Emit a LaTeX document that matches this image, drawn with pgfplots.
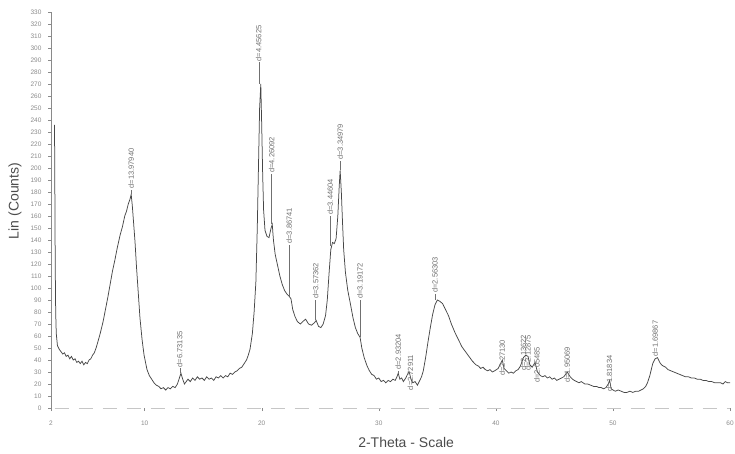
\documentclass[border=0pt]{standalone}
\usepackage{pgfplots}
\pgfplotsset{compat=1.18}
\usepackage{pgfplotstable}
\usepackage{fontspec}
\setmainfont{Liberation Sans}
\definecolor{curve}{HTML}{474747}
\definecolor{lbl}{HTML}{707070}
\definecolor{tck}{HTML}{8A8A8A}
\pgfplotstableread{
t c
2.30 236
2.33 180
2.36 120
2.40 80
2.45 62
2.55 52
2.70 49
2.85 47
3.00 45
3.15 46
3.30 43
3.45 44
3.60 41
3.75 43
3.90 40
4.05 41
4.20 38
4.35 39
4.50 37
4.65 39
4.80 36
4.95 38
5.10 37
5.25 40
5.40 41
5.55 44
5.70 46
5.85 50
6.00 55
6.20 62
6.45 72
6.65 82
6.85 92
7.05 103
7.25 114
7.45 123
7.65 133
7.90 144
8.10 151
8.30 160
8.45 164
8.60 170
8.75 174
8.85 178
8.95 168
9.05 155
9.18 138
9.30 118
9.44 98
9.60 75
9.78 57
9.95 44
10.20 32
10.40 27
10.60 24
10.80 21
11.00 19
11.20 18
11.40 16
11.60 17
11.80 15
12.00 17
12.20 16
12.40 18
12.60 17
12.80 20
13.00 26
13.10 29
13.25 24
13.40 20
13.55 22
13.70 24
13.90 22
14.10 25
14.30 23
14.50 26
14.70 24
14.90 25
15.10 23
15.30 26
15.50 24
15.70 25
15.90 23
16.10 26
16.30 25
16.50 27
16.70 25
16.90 27
17.10 26
17.30 29
17.50 28
17.70 30
17.90 31
18.10 33
18.30 34
18.50 37
18.70 40
18.85 44
19.00 49
19.20 62
19.35 80
19.50 105
19.62 150
19.72 200
19.82 250
19.92 270
20.00 235
20.08 195
20.16 165
20.28 148
20.45 143
20.62 142
20.80 150
20.90 153
21.00 140
21.15 128
21.35 119
21.55 110
21.75 103
21.95 98
22.15 95
22.35 93
22.50 91
22.65 82
22.85 76
23.05 72
23.30 70
23.50 72
23.75 74
24.00 70
24.25 69
24.50 71
24.65 73
24.85 68
25.05 67
25.25 70
25.45 77
25.60 90
25.75 112
25.90 132
26.05 138
26.20 137
26.35 141
26.50 160
26.62 185
26.70 198
26.80 180
26.90 155
27.00 132
27.15 113
27.35 98
27.55 88
27.80 75
28.00 67
28.20 62
28.40 59
28.55 50
28.75 42
29.00 35
29.20 31
29.40 28
29.60 27
29.80 24
30.00 25
30.20 22
30.40 23
30.60 21
30.80 23
31.00 22
31.20 24
31.40 23
31.55 26
31.66 29
31.80 24
31.95 25
32.10 22
32.30 25
32.50 29
32.60 30
32.75 24
32.90 21
33.10 22
33.30 19
33.50 23
33.65 26
33.80 31
34.00 42
34.20 55
34.40 67
34.60 78
34.80 86
35.00 90
35.20 89
35.45 87
35.70 82
35.95 77
36.20 70
36.50 63
36.80 57
37.10 51
37.40 47
37.70 43
38.00 39
38.30 36
38.50 35
38.70 33
38.90 34
39.10 32
39.30 31
39.50 32
39.70 30
39.90 31
40.20 33
40.40 37
40.55 40
40.70 33
40.90 31
41.10 29
41.30 30
41.50 29
41.70 31
41.90 32
42.10 35
42.35 42
42.55 44
42.75 43
42.90 36
43.10 34
43.35 38
43.55 30
43.80 27
44.00 26
44.20 27
44.40 25
44.60 26
44.80 24
45.00 25
45.20 23
45.40 24
45.60 25
45.80 26
46.10 30
46.35 26
46.55 24
46.70 23
46.90 22
47.10 21
47.30 22
47.60 20
47.85 20
48.10 19
48.35 18
48.60 18
48.80 17
49.00 17
49.20 16
49.40 17
49.60 20
49.72 23
49.85 16
50.00 15
50.20 14
50.45 15
50.70 14
50.95 13
51.20 13
51.45 14
51.70 13
51.95 14
52.20 14
52.40 15
52.60 16
52.80 18
52.95 21
53.15 27
53.40 37
53.60 41
53.80 42
54.00 38
54.15 36
54.30 35
54.50 34
54.70 32
54.95 31
55.20 30
55.45 29
55.70 28
55.95 27
56.20 26
56.45 26
56.70 25
56.95 25
57.20 24
57.45 24
57.70 23
57.95 23
58.20 22
58.45 22
58.70 21
58.95 21
59.20 21
59.40 20
59.60 22
59.80 21
60.00 21
}\xrd
\begin{document}
\begin{tikzpicture}
\path[use as bounding box] (0,0) rectangle (735pt,453pt);
\begin{axis}[
  at={(51pt,45pt)}, anchor=south west,
  scale only axis, width=679pt, height=396pt,
  xmin=2, xmax=60, ymin=0, ymax=330,
  clip=false,
  axis lines=left,
  axis line style={-, draw=tck, line width=0.5pt},
  x axis line style={draw=none},
  xtick={2,10,20,30,40,50,60},
  ytick={0,10,...,330},
  tick align=outside,
  major tick length=3pt,
  tick style={draw=tck, line width=0.4pt},
  ticklabel style={font=\fontsize{6.5}{7}\selectfont, text=tck},
  /pgf/number format/assume math mode=true,
  yticklabel style={xshift=-3pt},
  xticklabel style={yshift=-6pt},
  every axis y label/.style={at={(axis description cs:-0.053,0.523)}, rotate=90, anchor=center, font=\fontsize{14}{16}\selectfont, text=black!70},
  every axis x label/.style={at={(axis description cs:0.523,-0.086)}, anchor=center, font=\fontsize{14}{16}\selectfont, text=black!70},
  ylabel={Lin (Counts)},
  xlabel={2-Theta - Scale},
]
\addplot[draw=gray!45, dash pattern=on 14pt off 10pt, line width=0.6pt] coordinates {(2.3,0) (60,0)};
\addplot[curve, line width=0.75pt] table[x=t, y=c] {\xrd};
% peak labels
\foreach \x/\p/\b/\d in {8.84/178/182/13.97940, 13.0/29/33/6.73135, 19.75/270/288/4.45625, 20.85/153/195/4.26092, 22.35/93/136/3.86741, 24.6/73/90/3.57362, 25.85/135/160/3.44604, 26.7/198/206/3.34979, 28.4/59/90/3.19172, 31.66/29/31/2.93204, 34.8/90/95/2.56303, 53.6/42/42/1.69867}{
  \edef\tmp{\noexpand\draw[lbl, line width=0.4pt] (axis cs:\x,\p) -- (axis cs:\x,\b);
  \noexpand\node[rotate=90, anchor=west, inner sep=1pt, font=\noexpand\fontsize{7.5}{8}\noexpand\selectfont, text=lbl] at (axis cs:\x,\b) {d=\d};}
  \tmp
}
\foreach \x/\b/\d in {32.7/14/2.72911, 40.55/26/2.27130, 42.35/30/2.13622, 42.75/30/2.12875, 43.5/20/2.05485, 46.1/20/1.95069, 49.7/13/1.81834}{
  \edef\tmp{\noexpand\node[rotate=90, anchor=west, inner sep=1pt, font=\noexpand\fontsize{7.5}{8}\noexpand\selectfont, text=lbl] at (axis cs:\x,\b) {d=\d};}
  \tmp
}
\end{axis}
\end{tikzpicture}
\end{document}
